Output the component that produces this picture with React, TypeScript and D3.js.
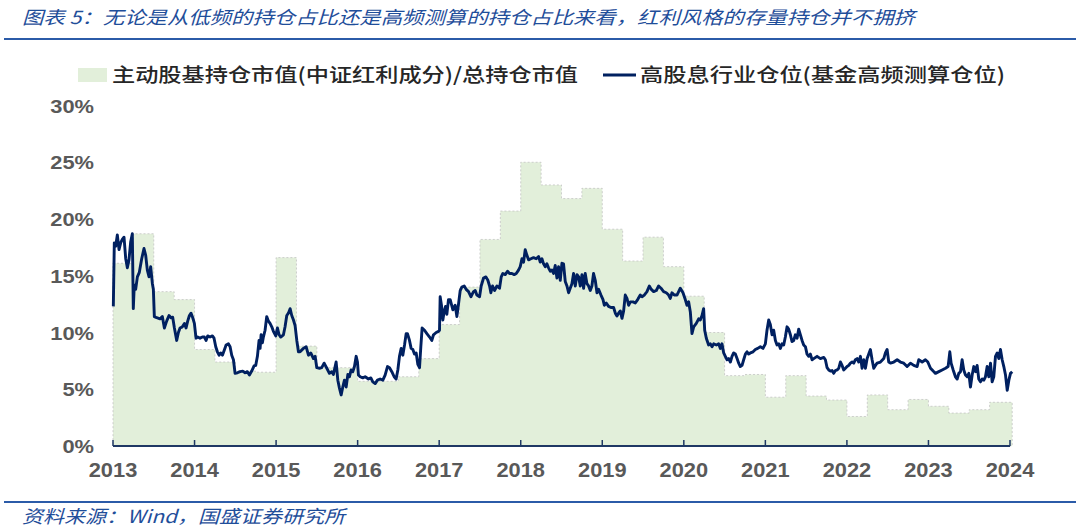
import React from 'react';
import * as d3 from 'd3';

// 主动股基持仓市值(中证红利成分)/总持仓市值 — quarterly, %
const quarters = [
  '2013Q1', '2013Q2', '2013Q3', '2013Q4',
  '2014Q1', '2014Q2', '2014Q3', '2014Q4',
  '2015Q1', '2015Q2', '2015Q3', '2015Q4',
  '2016Q1', '2016Q2', '2016Q3', '2016Q4',
  '2017Q1', '2017Q2', '2017Q3', '2017Q4',
  '2018Q1', '2018Q2', '2018Q3', '2018Q4',
  '2019Q1', '2019Q2', '2019Q3', '2019Q4',
  '2020Q1', '2020Q2', '2020Q3', '2020Q4',
  '2021Q1', '2021Q2', '2021Q3', '2021Q4',
  '2022Q1', '2022Q2', '2022Q3', '2022Q4',
  '2023Q1', '2023Q2', '2023Q3', '2023Q4',
];
const holdingShare = [
  16.1, 18.7, 13.6, 12.9,
  8.5, 7.4, 6.6, 6.5,
  16.6, 8.8, 6.9, 6.9,
  5.7, 5.7, 6.1, 7.7,
  10.7, 14.0, 18.2, 20.7,
  25.0, 23.0, 21.8, 22.7,
  19.1, 16.3, 18.4, 15.8,
  13.2, 10.0, 6.2, 6.3,
  4.3, 6.2, 4.4, 4.05,
  2.6, 4.5, 3.2, 4.1,
  3.5, 2.9, 3.2, 3.85,
];

// 高股息行业仓位(基金高频测算仓位) — [years since start of 2013, %]
const startYear = 2013;
const highDivPosition: [number, number][] = [
  [0.004, 12.3], [0.016, 17.9], [0.033, 17.6], [0.053, 18.6], [0.074, 17.3], [0.094, 17.9],
  [0.114, 18.2], [0.135, 18.4], [0.156, 16.5], [0.176, 15.7], [0.196, 16.4], [0.217, 18.0],
  [0.237, 18.7], [0.249, 12.1], [0.261, 14.2], [0.278, 13.8], [0.299, 14.9], [0.323, 15.3],
  [0.352, 16.5], [0.380, 17.4], [0.401, 16.8], [0.421, 15.5], [0.442, 14.9], [0.462, 15.8],
  [0.483, 14.3], [0.495, 13.8], [0.507, 11.4], [0.536, 11.3], [0.577, 11.2], [0.605, 11.4],
  [0.630, 10.4], [0.658, 11.0], [0.687, 11.5], [0.712, 11.3], [0.732, 11.35], [0.753, 10.4],
  [0.781, 9.3], [0.802, 10.0], [0.822, 10.4], [0.851, 10.5], [0.876, 10.8], [0.896, 10.4],
  [0.916, 11.0], [0.937, 11.5], [0.957, 11.7], [0.978, 11.3], [0.998, 10.8], [1.018, 9.5],
  [1.039, 9.6], [1.067, 9.5], [1.096, 9.6], [1.121, 9.6], [1.141, 9.3], [1.161, 9.7],
  [1.190, 9.6], [1.219, 9.7], [1.239, 9.5], [1.260, 8.75], [1.280, 8.3], [1.301, 8.0],
  [1.321, 8.2], [1.342, 8.0], [1.362, 8.4], [1.387, 8.9], [1.415, 9.0], [1.436, 8.75],
  [1.456, 8.0], [1.477, 7.6], [1.497, 6.4], [1.526, 6.45], [1.558, 6.55], [1.591, 6.6],
  [1.620, 6.45], [1.648, 6.55], [1.673, 6.26], [1.701, 6.6], [1.730, 7.05], [1.750, 7.1],
  [1.771, 7.9], [1.791, 9.3], [1.804, 8.6], [1.816, 9.8], [1.832, 9.1], [1.844, 9.6],
  [1.865, 10.2], [1.885, 11.4], [1.906, 11.0], [1.926, 10.8], [1.947, 10.5], [1.967, 10.1],
  [1.996, 9.7], [2.016, 10.4], [2.037, 9.8], [2.057, 9.6], [2.090, 9.8], [2.110, 10.5],
  [2.131, 11.5], [2.151, 11.7], [2.172, 12.1], [2.192, 11.5], [2.213, 11.1], [2.233, 10.6],
  [2.254, 9.3], [2.274, 8.3], [2.294, 8.3], [2.335, 8.6], [2.368, 8.75], [2.397, 8.0],
  [2.425, 8.2], [2.458, 7.7], [2.479, 7.9], [2.499, 6.9], [2.532, 6.85], [2.560, 6.9],
  [2.589, 7.3], [2.622, 6.85], [2.654, 6.4], [2.683, 6.55], [2.703, 6.3], [2.736, 7.4],
  [2.757, 5.8], [2.777, 5.1], [2.798, 4.5], [2.818, 5.2], [2.838, 5.8], [2.859, 5.2],
  [2.880, 6.3], [2.900, 6.1], [2.920, 6.7], [2.941, 6.55], [2.961, 7.0], [2.982, 7.9],
  [2.998, 7.4], [3.010, 6.25], [3.031, 6.1], [3.063, 6.0], [3.092, 6.1], [3.133, 5.9],
  [3.162, 6.0], [3.186, 5.65], [3.215, 5.5], [3.243, 5.8], [3.276, 5.9], [3.309, 5.8],
  [3.337, 6.25], [3.366, 7.0], [3.391, 6.9], [3.419, 6.55], [3.448, 6.1], [3.472, 5.9],
  [3.493, 6.7], [3.513, 7.9], [3.534, 8.6], [3.554, 8.0], [3.575, 8.9], [3.595, 9.9],
  [3.611, 9.9], [3.636, 9.3], [3.656, 8.6], [3.677, 8.5], [3.697, 8.1], [3.718, 8.2],
  [3.738, 7.2], [3.759, 6.9], [3.775, 8.75], [3.791, 10.4], [3.820, 10.2], [3.849, 9.9],
  [3.882, 9.6], [3.910, 9.3], [3.930, 9.8], [3.963, 10.0], [3.992, 10.1], [4.004, 10.2],
  [4.012, 13.15], [4.028, 12.4], [4.045, 11.1], [4.061, 11.85], [4.078, 12.3], [4.094, 11.6],
  [4.114, 12.9], [4.135, 12.9], [4.168, 12.0], [4.196, 12.4], [4.217, 11.4], [4.237, 12.5],
  [4.258, 13.7], [4.278, 14.0], [4.307, 14.1], [4.331, 13.8], [4.360, 13.6], [4.389, 13.15],
  [4.421, 13.6], [4.442, 13.7], [4.462, 13.3], [4.495, 13.15], [4.515, 14.1], [4.544, 14.8],
  [4.573, 14.9], [4.597, 14.6], [4.618, 14.1], [4.634, 13.5], [4.654, 14.1], [4.679, 13.7],
  [4.708, 14.1], [4.740, 13.9], [4.761, 14.9], [4.781, 15.2], [4.810, 15.1], [4.838, 15.4],
  [4.863, 15.2], [4.892, 15.2], [4.920, 15.1], [4.945, 15.2], [4.973, 15.5], [4.994, 15.8],
  [5.015, 16.5], [5.035, 16.2], [5.055, 17.3], [5.076, 16.8], [5.096, 16.4], [5.125, 16.5],
  [5.157, 16.6], [5.190, 16.5], [5.219, 16.7], [5.239, 16.2], [5.260, 16.5], [5.280, 16.05],
  [5.301, 15.8], [5.321, 16.05], [5.341, 15.7], [5.362, 15.4], [5.383, 15.5], [5.403, 15.2],
  [5.423, 15.9], [5.444, 14.8], [5.464, 15.8], [5.485, 14.6], [5.505, 16.1], [5.525, 16.05],
  [5.546, 14.5], [5.567, 14.1], [5.587, 13.5], [5.607, 13.9], [5.628, 14.3], [5.648, 15.2],
  [5.669, 14.1], [5.690, 15.1], [5.710, 14.9], [5.730, 14.1], [5.751, 15.1], [5.771, 13.9],
  [5.791, 15.2], [5.812, 14.3], [5.832, 14.1], [5.853, 13.7], [5.873, 14.1], [5.893, 15.2],
  [5.914, 14.6], [5.935, 13.5], [5.955, 13.8], [5.984, 13.3], [6.009, 12.9], [6.025, 12.4],
  [6.049, 12.6], [6.077, 12.3], [6.106, 12.2], [6.139, 12.2], [6.160, 11.7], [6.180, 11.45],
  [6.200, 11.7], [6.221, 11.9], [6.242, 11.25], [6.262, 11.9], [6.282, 13.3], [6.303, 13.0],
  [6.323, 12.4], [6.344, 12.7], [6.377, 12.7], [6.405, 12.6], [6.434, 12.9], [6.466, 13.3],
  [6.487, 13.15], [6.515, 13.3], [6.548, 13.6], [6.577, 14.1], [6.601, 13.8], [6.630, 13.6],
  [6.663, 13.7], [6.691, 14.1], [6.720, 13.9], [6.752, 13.6], [6.785, 13.5], [6.814, 13.3],
  [6.834, 13.0], [6.855, 13.5], [6.883, 13.3], [6.916, 13.3], [6.957, 13.9], [6.990, 13.5],
  [7.018, 12.9], [7.039, 12.4], [7.059, 12.7], [7.080, 11.8], [7.100, 9.9], [7.121, 10.5],
  [7.153, 10.8], [7.182, 11.2], [7.202, 11.1], [7.223, 11.5], [7.243, 12.1], [7.256, 10.2],
  [7.276, 9.5], [7.304, 8.9], [7.325, 9.0], [7.346, 8.75], [7.366, 9.0], [7.399, 8.9],
  [7.427, 9.0], [7.448, 8.6], [7.468, 9.0], [7.489, 8.2], [7.509, 7.9], [7.530, 7.6],
  [7.550, 7.7], [7.571, 7.4], [7.591, 7.9], [7.611, 8.2], [7.632, 8.1], [7.653, 7.7],
  [7.673, 7.3], [7.693, 7.0], [7.714, 7.1], [7.734, 7.6], [7.755, 8.1], [7.775, 8.3],
  [7.795, 8.1], [7.816, 8.2], [7.849, 8.3], [7.877, 8.5], [7.906, 8.6], [7.939, 8.75],
  [7.971, 8.6], [8.000, 9.0], [8.020, 10.2], [8.041, 11.1], [8.061, 10.7], [8.082, 9.8],
  [8.102, 10.2], [8.123, 9.3], [8.143, 8.9], [8.164, 9.0], [8.184, 8.6], [8.205, 9.0],
  [8.225, 8.9], [8.245, 9.6], [8.266, 10.5], [8.286, 10.3], [8.307, 9.8], [8.327, 9.2],
  [8.348, 9.3], [8.368, 9.8], [8.389, 9.5], [8.409, 10.3], [8.429, 9.8], [8.450, 9.3],
  [8.470, 8.9], [8.491, 8.75], [8.511, 8.1], [8.532, 7.9], [8.552, 8.1], [8.573, 7.6],
  [8.593, 7.7], [8.634, 7.9], [8.675, 7.7], [8.716, 7.8], [8.736, 7.6], [8.757, 6.9],
  [8.777, 6.7], [8.798, 6.6], [8.818, 6.65], [8.838, 6.4], [8.859, 6.65], [8.880, 6.7],
  [8.900, 6.85], [8.920, 7.4], [8.941, 7.1], [8.961, 6.7], [8.982, 6.85], [9.002, 7.0],
  [9.023, 7.1], [9.043, 7.3], [9.064, 7.4], [9.084, 7.3], [9.104, 7.6], [9.125, 7.7],
  [9.145, 7.4], [9.166, 7.9], [9.186, 6.85], [9.207, 7.6], [9.227, 6.85], [9.248, 7.7],
  [9.268, 8.1], [9.288, 8.5], [9.309, 7.6], [9.329, 6.85], [9.350, 7.1], [9.370, 7.3],
  [9.411, 7.4], [9.452, 7.7], [9.472, 8.2], [9.493, 8.5], [9.513, 7.4], [9.534, 7.3],
  [9.575, 7.4], [9.616, 7.6], [9.656, 7.4], [9.697, 7.3], [9.738, 7.0], [9.779, 7.3],
  [9.820, 7.1], [9.861, 7.0], [9.881, 7.6], [9.923, 7.4], [9.963, 7.6], [9.992, 7.4],
  [10.025, 6.85], [10.058, 6.6], [10.086, 6.4], [10.127, 6.55], [10.168, 6.7], [10.209, 6.85],
  [10.241, 7.0], [10.262, 8.3], [10.278, 7.3], [10.303, 6.7], [10.331, 6.1], [10.352, 5.9],
  [10.372, 6.4], [10.393, 6.55], [10.413, 7.6], [10.433, 6.7], [10.454, 6.25], [10.475, 6.1],
  [10.495, 6.4], [10.515, 5.2], [10.536, 6.25], [10.556, 7.0], [10.577, 6.55], [10.597, 7.1],
  [10.617, 5.9], [10.638, 5.65], [10.659, 5.9], [10.679, 5.8], [10.699, 6.1], [10.720, 7.0],
  [10.740, 6.1], [10.761, 7.3], [10.781, 5.65], [10.801, 6.1], [10.822, 7.9], [10.843, 8.2],
  [10.863, 7.7], [10.883, 8.5], [10.904, 7.6], [10.924, 7.0], [10.945, 6.25], [10.966, 4.9],
  [10.986, 5.8], [11.006, 6.4], [11.027, 6.55],
];

const yTicks = [0, 5, 10, 15, 20, 25, 30];
const xTickYears = [2013, 2014, 2015, 2016, 2017, 2018, 2019, 2020, 2021, 2022, 2023, 2024];

const titleText = '图表 5：无论是从低频的持仓占比还是高频测算的持仓占比来看，红利风格的存量持仓并不拥挤';
const sourceText = '资料来源：Wind，国盛证券研究所';
const legendArea = '主动股基持仓市值(中证红利成分)/总持仓市值';
const legendLine = '高股息行业仓位(基金高频测算仓位)';

export default function App() {
  const W = 1080;
  const H = 530;
  const x = d3.scaleLinear().domain([2013, 2024]).range([113, 1010]);
  const y = d3.scaleLinear().domain([0, 30]).range([446, 105.5]);

  const lastT = startYear + highDivPosition[highDivPosition.length - 1][0];
  const stepData = quarters.map((q, i) => ({
    t: +q.slice(0, 4) + (+q.slice(5) - 1) / 4,
    v: holdingShare[i],
  }));
  stepData.push({ t: lastT, v: holdingShare[holdingShare.length - 1] });

  const areaGen = d3
    .area<{ t: number; v: number }>()
    .x((d) => x(d.t))
    .y0(y(0))
    .y1((d) => y(d.v))
    .curve(d3.curveStepAfter);

  const lineGen = d3
    .line<[number, number]>()
    .x((d) => x(startYear + d[0]))
    .y((d) => y(d[1]));

  const axisColor = '#1F3864';
  const labelColor = '#595959';
  const blue = '#1F4E9A';
  const labelFont = "'Liberation Sans', Arial, sans-serif";
  const cjkFont = "'Noto Sans CJK SC', sans-serif";

  return (
    <svg
      width={W}
      height={H}
      style={{ position: 'absolute', left: 0, top: 0, background: '#fff' }}
    >
      <rect x={0} y={0} width={W} height={H} fill="#fff" />
      {/* Title */}
      <text
        x={22}
        y={24}
        fontFamily={cjkFont}
        fontSize={18}
        fontStyle="italic"
        fill={blue}
        textLength={893}
        lengthAdjust="spacingAndGlyphs"
      >
        {titleText}
      </text>
      <line x1={4} x2={1076} y1={39} y2={39} stroke="#2B5BA8" strokeWidth={2} />

      {/* Legend */}
      <rect x={78} y={68} width={29} height={14} fill="#E2EFDA" />
      <text
        x={112}
        y={82}
        fontFamily={cjkFont}
        fontSize={19.5}
        fontWeight={500}
        fill="#262626"
        textLength={466}
        lengthAdjust="spacingAndGlyphs"
      >
        {legendArea}
      </text>
      <line x1={603} x2={636} y1={75} y2={75} stroke="#002060" strokeWidth={3} />
      <text
        x={640}
        y={82}
        fontFamily={cjkFont}
        fontSize={19.5}
        fontWeight={500}
        fill="#262626"
        textLength={365}
        lengthAdjust="spacingAndGlyphs"
      >
        {legendLine}
      </text>

      {/* Area */}
      <path
        d={areaGen(stepData) || ''}
        fill="#E2EFDA"
        stroke="#C4C4C4"
        strokeWidth={0.8}
        strokeDasharray="2,2"
      />

      {/* Line */}
      <path
        d={lineGen(highDivPosition) || ''}
        fill="none"
        stroke="#002060"
        strokeWidth={2.9}
        strokeLinejoin="round"
      />

      {/* X axis */}
      <line x1={x(2013)} x2={x(2024)} y1={y(0)} y2={y(0)} stroke={axisColor} strokeWidth={2} />
      {xTickYears.map((yr) => (
        <g key={yr}>
          <line x1={x(yr)} x2={x(yr)} y1={y(0)} y2={y(0) - 6} stroke={axisColor} strokeWidth={1.5} />
          <text
            transform={`translate(${x(yr)},${477}) scale(1.12,1)`}
            textAnchor="middle"
            fontFamily={labelFont}
            fontWeight="bold"
            fontSize={19.5}
            fill={labelColor}
          >
            {yr}
          </text>
        </g>
      ))}

      {/* Y labels */}
      {yTicks.map((v) => (
        <text
          key={v}
          transform={`translate(94,${y(v) + 7}) scale(1.15,1)`}
          textAnchor="end"
          fontFamily={labelFont}
          fontWeight="bold"
          fontSize={19}
          fill={labelColor}
        >
          {v}%
        </text>
      ))}

      {/* Source */}
      <line x1={4} x2={1076} y1={502} y2={502} stroke="#2B5BA8" strokeWidth={2} />
      <text
        x={22}
        y={523}
        fontFamily={cjkFont}
        fontSize={18}
        fontStyle="italic"
        fill={blue}
        textLength={323}
        lengthAdjust="spacingAndGlyphs"
      >
        {sourceText}
      </text>
    </svg>
  );
}
